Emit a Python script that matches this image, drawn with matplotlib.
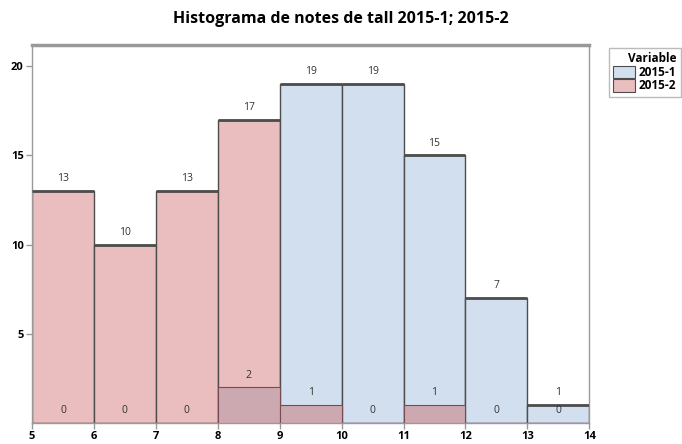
import numpy as np
import matplotlib.pyplot as plt
from matplotlib.patches import Patch

plt.rcParams["font.family"] = ["Open Sans", "DejaVu Sans"]

edges = np.arange(5, 15)
counts_1 = np.array([0, 0, 0, 2, 19, 19, 15, 7, 1])    # 2015-1
counts_2 = np.array([13, 10, 13, 17, 1, 0, 1, 0, 0])   # 2015-2

c_blue = "#D2DFEE"
c_red = "#EABDBE"
c_mix = "#CCA8B1"
c_edge = "#4D4D4D"
c_axis = "#999999"

fig = plt.figure(figsize=(6.82, 4.44), dpi=100)
ax = fig.add_axes([0.047, 0.047, 0.817, 0.852])

left = edges[:-1]
width = np.diff(edges)
hi = np.maximum(counts_1, counts_2)
lo = np.minimum(counts_1, counts_2)
hi_col = [c_blue if a >= b else c_red for a, b in zip(counts_1, counts_2)]

ax.bar(left, hi, width=width, align="edge", color=hi_col, edgecolor=c_edge, linewidth=1.0, zorder=2)
ax.bar(left, lo, width=width, align="edge", color=c_mix, edgecolor="#7A4A52", linewidth=0.8, zorder=3)
ax.hlines(hi, left, left + width, color=c_edge, linewidth=2.0, zorder=4)

for x, a, b in zip(left + width / 2, counts_1, counts_2):
    for v in (a, b):
        ax.annotate(str(v), (x, v), xytext=(0, 5), textcoords="offset points",
                    ha="center", va="bottom", fontsize=7.5, color="#333333", zorder=5)

ax.set_xlim(5, 14)
ax.set_ylim(0, 21.2)
ax.set_xticks(edges)
ax.set_yticks([5, 10, 15, 20])
ax.tick_params(axis="both", length=4, width=1, color=c_axis, labelsize=8, pad=2)
for lab in ax.get_xticklabels() + ax.get_yticklabels():
    lab.set_fontweight("bold")
for s in ax.spines.values():
    s.set_color(c_axis)
    s.set_linewidth(1)
ax.spines["top"].set_linewidth(2.5)

fig.suptitle("Histograma de notes de tall 2015-1; 2015-2", fontsize=11.5, fontweight="bold", y=0.975)

handles = [Patch(facecolor=c_blue, edgecolor=c_edge, linewidth=0.8),
           Patch(facecolor=c_red, edgecolor=c_edge, linewidth=0.8)]
leg = fig.legend(handles, ["2015-1", "2015-2"], title="Variable",
                 loc="upper left", bbox_to_anchor=(0.884, 0.905),
                 fontsize=8.5, title_fontsize=8.5, frameon=True, fancybox=False,
                 handlelength=1.9, handleheight=1.2, handletextpad=0.3,
                 labelspacing=0.05, borderpad=0.35, alignment="right")
leg.get_frame().set_edgecolor("#AAAAAA")
leg.get_title().set_fontweight("bold")
for t in leg.get_texts():
    t.set_fontweight("bold")

fig.savefig("out.png", dpi=100)
